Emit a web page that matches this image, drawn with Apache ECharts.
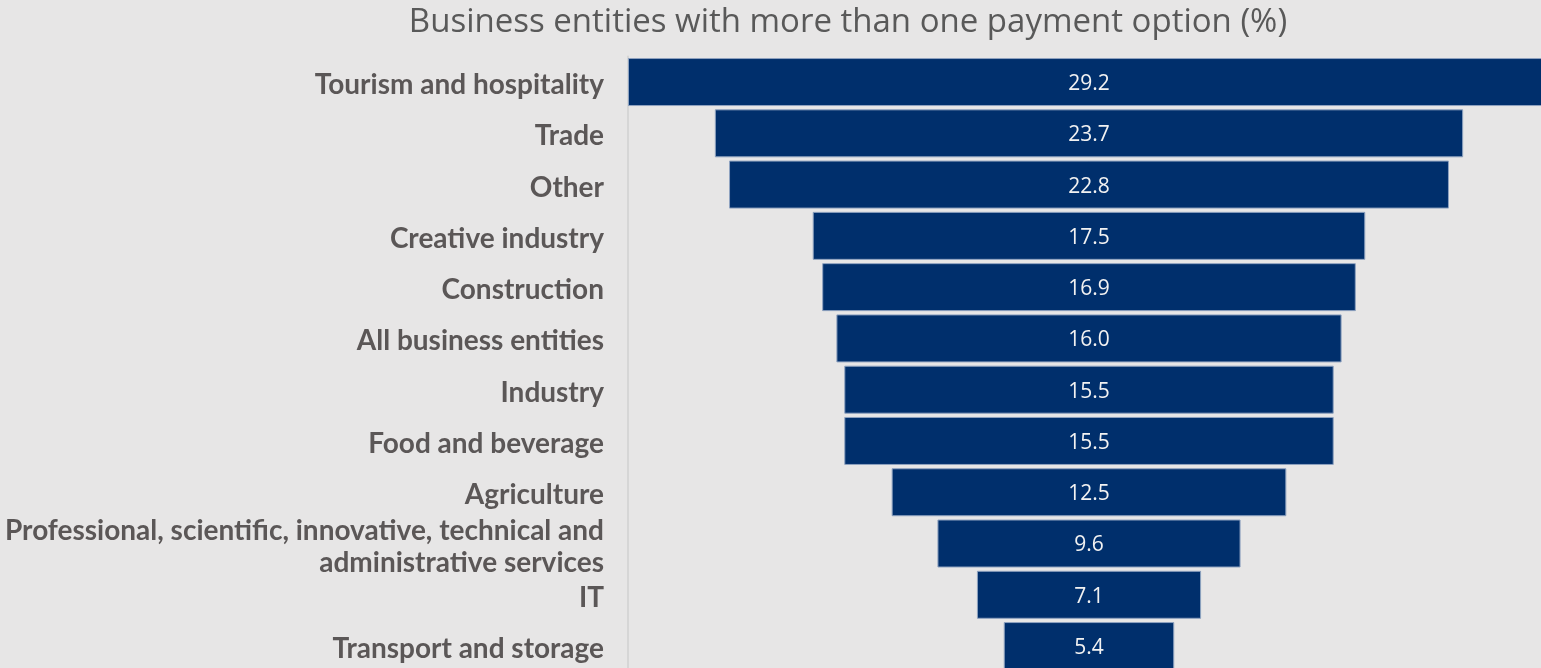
<!DOCTYPE html>
<html>
<head>
<meta charset="utf-8">
<script src="https://cdn.jsdelivr.net/npm/echarts@6/dist/echarts.min.js"></script>
<style>
  html, body { margin: 0; padding: 0; background: #e7e6e6; overflow: hidden; }
  /* the widest bar and the last row run slightly past the visible page edge */
  #chart { width: 1550px; height: 672px; }
</style>
</head>
<body>
<div id="chart"></div>
<script>
// Sectors, top to bottom
const categories = [
  'Tourism and hospitality',
  'Trade',
  'Other',
  'Creative industry',
  'Construction',
  'All business entities',
  'Industry',
  'Food and beverage',
  'Agriculture',
  'Professional, scientific, innovative, technical and\nadministrative services',
  'IT',
  'Transport and storage'
];

// Share of business entities with more than one payment option (%)
const shares = [29.2, 23.7, 22.8, 17.5, 16.9, 16.0, 15.5, 15.5, 12.5, 9.6, 7.1, 5.4];

const chartTitle = 'Business entities with more than one payment option (%)';

// Bars are centred: a transparent spacer of half the leftover width sits before each bar
const maxShare = Math.max(...shares);
const spacers = shares.map(v => (maxShare - v) / 2);

const chart = echarts.init(document.getElementById('chart'), null, { renderer: 'canvas' });

chart.setOption({
  backgroundColor: '#e7e6e6',
  animation: false,
  title: {
    text: chartTitle,
    left: 843,
    textAlign: 'center',
    top: 1,
    textStyle: {
      fontFamily: 'Open Sans',
      fontWeight: 'normal',
      fontSize: 33,
      color: '#595959'
    }
  },
  grid: {
    left: 628,
    right: 0,
    top: 56.4,
    height: 615.3,
    containLabel: false
  },
  xAxis: {
    type: 'value',
    min: 0,
    max: maxShare,
    show: false
  },
  yAxis: {
    type: 'category',
    data: categories,
    inverse: true,
    axisLine: { show: true, lineStyle: { color: '#d6d6d6', width: 2 } },
    axisTick: { show: false },
    splitLine: { show: false },
    axisLabel: { show: false }
  },
  series: [
    {
      // invisible spacer; it also carries the sector names left of the axis
      name: 'spacer',
      type: 'bar',
      stack: 'funnel',
      silent: true,
      itemStyle: { color: 'transparent' },
      barWidth: 48,
      label: {
        show: true,
        position: 'left',
        distance: 24,
        offset: [0, 3],
        align: 'right',
        fontFamily: 'Lato',
        fontWeight: 'bold',
        fontSize: 28,
        lineHeight: 32,
        color: '#5b5757',
        formatter: p => categories[p.dataIndex]
      },
      data: spacers
    },
    {
      name: 'share',
      type: 'bar',
      stack: 'funnel',
      barWidth: 48,
      itemStyle: {
        color: '#002f6c',
        borderColor: '#8fa3c0',
        borderWidth: 1
      },
      label: {
        show: true,
        position: 'inside',
        offset: [0, 2],
        fontFamily: 'Open Sans',
        fontSize: 21,
        color: '#f2f2f2',
        formatter: p => p.value.toFixed(1)
      },
      data: shares
    }
  ]
});
</script>
</body>
</html>
